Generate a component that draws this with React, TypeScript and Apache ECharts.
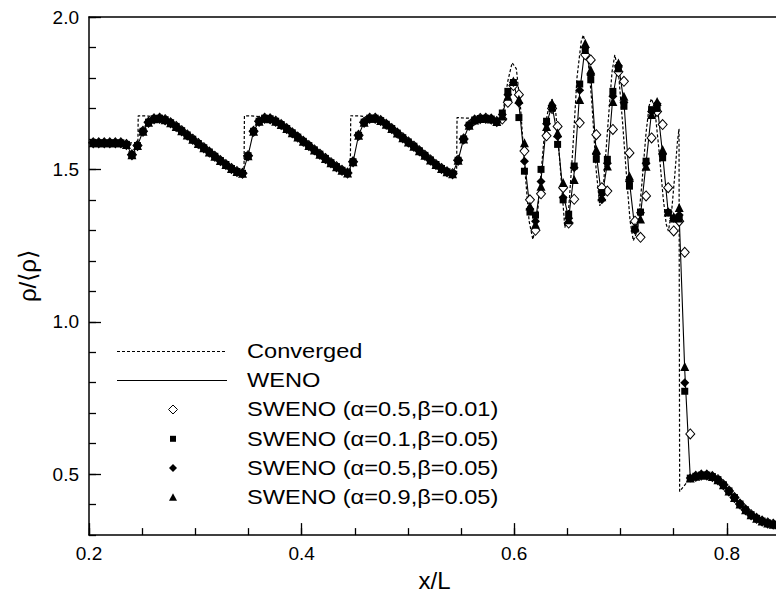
import React, { useEffect, useRef } from "react";
import * as echarts from "echarts";

// grid abscissae (x/L) of the computed solutions
const xGrid = [
  0.2040, 0.2092, 0.2144, 0.2196, 0.2248, 0.2300, 0.2352, 0.2404, 0.2456, 0.2508,
  0.2560, 0.2612, 0.2664, 0.2716, 0.2768, 0.2820, 0.2872, 0.2924, 0.2976, 0.3028,
  0.3080, 0.3132, 0.3184, 0.3236, 0.3288, 0.3340, 0.3392, 0.3444, 0.3496, 0.3548,
  0.3600, 0.3652, 0.3704, 0.3756, 0.3808, 0.3860, 0.3912, 0.3964, 0.4016, 0.4068,
  0.4120, 0.4172, 0.4224, 0.4276, 0.4328, 0.4380, 0.4432, 0.4484, 0.4536, 0.4588,
  0.4640, 0.4692, 0.4744, 0.4796, 0.4848, 0.4900, 0.4952, 0.5004, 0.5056, 0.5108,
  0.5160, 0.5212, 0.5264, 0.5316, 0.5368, 0.5420, 0.5472, 0.5524, 0.5576, 0.5628,
  0.5680, 0.5732, 0.5784, 0.5836, 0.5888, 0.5940, 0.5992, 0.6044, 0.6096, 0.6148,
  0.6200, 0.6252, 0.6304, 0.6356, 0.6408, 0.6460, 0.6512, 0.6564, 0.6616, 0.6668,
  0.6720, 0.6772, 0.6824, 0.6876, 0.6928, 0.6980, 0.7032, 0.7084, 0.7136, 0.7188,
  0.7240, 0.7292, 0.7344, 0.7396, 0.7448, 0.7500, 0.7552, 0.7604, 0.7656, 0.7708,
  0.7760, 0.7812, 0.7864, 0.7916, 0.7968, 0.8020, 0.8072, 0.8124, 0.8176, 0.8228,
  0.8280, 0.8332, 0.8384, 0.8436, 0.8488,
];

// smooth pre-oscillation part, common to all computed solutions (grid points 0..73)
const smoothShared = [
  1.587, 1.587, 1.587, 1.587, 1.587, 1.587, 1.582, 1.548, 1.578, 1.625,
  1.655, 1.666, 1.668, 1.663, 1.653, 1.641, 1.627, 1.613, 1.599, 1.585,
  1.571, 1.557, 1.543, 1.529, 1.516, 1.503, 1.493, 1.487, 1.545, 1.625,
  1.658, 1.668, 1.666, 1.658, 1.647, 1.634, 1.620, 1.606, 1.592, 1.578,
  1.564, 1.550, 1.536, 1.522, 1.509, 1.497, 1.488, 1.525, 1.612, 1.655,
  1.668, 1.668, 1.660, 1.648, 1.634, 1.619, 1.604, 1.590, 1.576, 1.561,
  1.546, 1.531, 1.516, 1.503, 1.492, 1.486, 1.530, 1.600, 1.645, 1.662,
  1.667, 1.668, 1.665, 1.657,
];

// oscillatory region + shock (grid points 74..108)
const wenoOsc = [
  1.680, 1.745, 1.785, 1.715, 1.530, 1.370, 1.330, 1.465, 1.650, 1.710,
  1.605, 1.420, 1.340, 1.490, 1.755, 1.905, 1.810, 1.550, 1.405, 1.520,
  1.740, 1.845, 1.720, 1.460, 1.300, 1.350, 1.520, 1.690, 1.715, 1.550,
  1.360, 1.340, 1.345, 0.840, 0.487,
];
const sw05_001Osc = [
  1.665, 1.720, 1.775, 1.745, 1.560, 1.400, 1.300, 1.420, 1.610, 1.700,
  1.641, 1.440, 1.324, 1.402, 1.653, 1.876, 1.859, 1.614, 1.440, 1.429,
  1.631, 1.820, 1.789, 1.554, 1.330, 1.277, 1.413, 1.603, 1.690, 1.647,
  1.440, 1.298, 1.330, 1.228, 0.632,
];
const sw01_005Osc = [
  1.685, 1.756, 1.785, 1.670, 1.494, 1.360, 1.350, 1.500, 1.658, 1.700,
  1.582, 1.400, 1.353, 1.511, 1.780, 1.890, 1.794, 1.533, 1.424, 1.533,
  1.756, 1.830, 1.707, 1.445, 1.304, 1.360, 1.527, 1.696, 1.700, 1.538,
  1.358, 1.337, 1.337, 0.772, 0.487,
];
const sw05_005Osc = [
  1.680, 1.745, 1.785, 1.718, 1.527, 1.370, 1.330, 1.460, 1.650, 1.710,
  1.608, 1.408, 1.340, 1.505, 1.760, 1.900, 1.810, 1.550, 1.400, 1.520,
  1.740, 1.840, 1.720, 1.460, 1.300, 1.358, 1.520, 1.690, 1.715, 1.550,
  1.360, 1.340, 1.350, 0.800, 0.487,
];
const sw09_005Osc = [
  1.675, 1.740, 1.790, 1.730, 1.587, 1.380, 1.320, 1.445, 1.641, 1.718,
  1.620, 1.457, 1.335, 1.467, 1.729, 1.914, 1.827, 1.565, 1.410, 1.511,
  1.723, 1.849, 1.740, 1.478, 1.310, 1.337, 1.510, 1.680, 1.723, 1.565,
  1.360, 1.345, 1.375, 0.853, 0.487,
];

// post-shock region, common (grid points 109..124)
const tailShared = [
  0.493, 0.497, 0.497, 0.492, 0.482, 0.465, 0.445, 0.423, 0.402, 0.383,
  0.367, 0.355, 0.346, 0.340, 0.336, 0.334,
];

// converged (reference) solution
const convX = [
  0.2000, 0.2460, 0.2463, 0.2560, 0.2660, 0.2760, 0.2860, 0.2960, 0.3060, 0.3160,
  0.3260, 0.3360, 0.3458, 0.3462, 0.3560, 0.3660, 0.3760, 0.3860, 0.3960, 0.4060,
  0.4160, 0.4260, 0.4360, 0.4458, 0.4462, 0.4560, 0.4660, 0.4760, 0.4860, 0.4960,
  0.5060, 0.5160, 0.5260, 0.5360, 0.5458, 0.5462, 0.5560, 0.5660, 0.5760, 0.5820,
  0.5860, 0.5900, 0.5940, 0.5980, 0.6020, 0.6060, 0.6100, 0.6140, 0.6175, 0.6210,
  0.6250, 0.6290, 0.6330, 0.6355, 0.6390, 0.6430, 0.6476, 0.6510, 0.6550, 0.6590,
  0.6630, 0.6650, 0.6690, 0.6730, 0.6770, 0.6805, 0.6840, 0.6880, 0.6920, 0.6946,
  0.6980, 0.7020, 0.7060, 0.7090, 0.7120, 0.7160, 0.7200, 0.7240, 0.7270, 0.7290,
  0.7320, 0.7360, 0.7400, 0.7430, 0.7450, 0.7480, 0.7510, 0.7535, 0.7550, 0.7556,
  0.7656, 0.7708, 0.7760, 0.7812, 0.7864, 0.7916, 0.7968, 0.8020, 0.8072, 0.8124,
  0.8176, 0.8228, 0.8280, 0.8332, 0.8384, 0.8436, 0.8488,
];
const convY = [
  1.587, 1.587, 1.676, 1.675, 1.670, 1.656, 1.632, 1.605, 1.578, 1.551,
  1.523, 1.498, 1.484, 1.676, 1.675, 1.670, 1.656, 1.632, 1.605, 1.578,
  1.551, 1.523, 1.498, 1.484, 1.676, 1.675, 1.670, 1.656, 1.632, 1.605,
  1.578, 1.551, 1.523, 1.498, 1.484, 1.670, 1.668, 1.667, 1.667, 1.662,
  1.656, 1.700, 1.790, 1.850, 1.830, 1.700, 1.500, 1.330, 1.270, 1.320,
  1.480, 1.640, 1.715, 1.730, 1.690, 1.520, 1.309, 1.360, 1.560, 1.800,
  1.920, 1.941, 1.880, 1.720, 1.500, 1.380, 1.450, 1.640, 1.820, 1.876,
  1.820, 1.650, 1.460, 1.330, 1.266, 1.300, 1.450, 1.620, 1.710, 1.732,
  1.705, 1.570, 1.410, 1.320, 1.298, 1.360, 1.480, 1.590, 1.633, 0.443,
  0.487, 0.493, 0.497, 0.497, 0.492, 0.482, 0.465, 0.445, 0.423, 0.402,
  0.383, 0.367, 0.355, 0.346, 0.340, 0.336, 0.334,
];

// labelled (major) tick values
const xMajorTicks = [0.2, 0.4, 0.6, 0.8];
const yMajorTicks = [0.5, 1.0, 1.5, 2.0];

const legendNames = [
  "Converged",
  "WENO",
  "SWENO (α=0.5,β=0.01)",
  "SWENO (α=0.1,β=0.05)",
  "SWENO (α=0.5,β=0.05)",
  "SWENO (α=0.9,β=0.05)",
];

const FONT = '"Liberation Sans", Arial, Helvetica, sans-serif';
const X_MIN = 0.2;
const X_MAX = 0.85;
const Y_MIN = 0.3;
const Y_MAX = 2.0;
const CHART_W = 790;
const CHART_H = 597;
const GRID = { left: 89, top: 17, right: 10, bottom: 60 };
const TICK_STYLE = { color: "#000", width: 1.3 };

function buildSeries(osc: number[]) {
  const vals = [...smoothShared, ...osc, ...tailShared];
  return vals.map((v, k) => [xGrid[k], v]);
}

export default function App() {
  const ref = useRef<HTMLDivElement>(null);
  useEffect(() => {
    if (!ref.current) return;
    const chart = echarts.init(ref.current, null, { renderer: "svg" });

    const lx = 173;
    const rows = [351.5, 380.5, 409.5, 438.8, 468, 497.3];
    const tx = 247;

    const graphic: any[] = [
      { type: "line", shape: { x1: 117, y1: rows[0], x2: 226, y2: rows[0] }, style: { stroke: "#000", lineWidth: 1, lineDash: [3, 2] } },
      { type: "line", shape: { x1: 117, y1: rows[1], x2: 227, y2: rows[1] }, style: { stroke: "#000", lineWidth: 1.2 } },
      { type: "polygon", shape: { points: [[lx, rows[2] - 4.5], [lx + 4.5, rows[2]], [lx, rows[2] + 4.5], [lx - 4.5, rows[2]]] }, style: { fill: "#fff", stroke: "#000", lineWidth: 1 } },
      { type: "rect", shape: { x: lx - 3, y: rows[3] - 3, width: 6, height: 6 }, style: { fill: "#000" } },
      { type: "polygon", shape: { points: [[lx, rows[4] - 4], [lx + 4, rows[4]], [lx, rows[4] + 4], [lx - 4, rows[4]]] }, style: { fill: "#000" } },
      { type: "polygon", shape: { points: [[lx, rows[5] - 4], [lx + 4, rows[5] + 3.5], [lx - 4, rows[5] + 3.5]] }, style: { fill: "#000" } },
    ];
    legendNames.forEach((name, k) => {
      graphic.push({
        type: "text", x: tx, y: rows[k], scaleX: 1.18,
        style: { text: name, fill: "#000", fontSize: 20, fontFamily: FONT, textAlign: "left", textVerticalAlign: "middle" },
      });
    });

    const option: any = {
      animation: false,
      backgroundColor: "#fff",
      grid: { ...GRID, show: false },
      xAxis: [
        {
          type: "value", position: "bottom", min: X_MIN, max: X_MAX, interval: 0.05,
          name: "x/L", nameLocation: "middle", nameGap: 31,
          nameTextStyle: { fontFamily: FONT, fontSize: 24, color: "#000" },
          axisLine: { show: true, onZero: false, lineStyle: { color: "#000", width: 1.5 } },
          axisTick: { show: true, inside: true, length: 7, lineStyle: TICK_STYLE },
          axisLabel: {
            show: true, margin: 9, color: "#000", fontFamily: FONT, fontSize: 19,
            customValues: xMajorTicks, formatter: (v: number) => v.toFixed(1),
          },
          splitLine: { show: false },
        },
        {
          type: "value", position: "bottom", min: X_MIN, max: X_MAX, interval: 0.2,
          axisLine: { show: false, onZero: false },
          axisTick: { show: true, inside: true, length: 12, lineStyle: TICK_STYLE },
          axisLabel: { show: false },
          splitLine: { show: false },
        },
        {
          type: "value", position: "top", min: X_MIN, max: X_MAX,
          axisLine: { show: true, onZero: false, lineStyle: { color: "#000", width: 1.5 } },
          axisTick: { show: false }, axisLabel: { show: false }, splitLine: { show: false },
        },
      ],
      yAxis: [
        {
          type: "value", position: "left", min: Y_MIN, max: Y_MAX, interval: 0.1,
          name: "ρ/⟨ρ⟩", nameLocation: "middle", nameGap: 50,
          nameTextStyle: { fontFamily: FONT, fontSize: 24, color: "#000" },
          axisLine: { show: true, onZero: false, lineStyle: { color: "#000", width: 1.5 } },
          axisTick: { show: true, inside: true, length: 7, lineStyle: TICK_STYLE },
          axisLabel: {
            show: true, margin: 10, color: "#000", fontFamily: FONT, fontSize: 19,
            customValues: yMajorTicks, formatter: (v: number) => v.toFixed(1),
          },
          splitLine: { show: false },
        },
        {
          type: "value", position: "left", min: Y_MIN, max: Y_MAX, interval: 0.1,
          axisLine: { show: false, onZero: false },
          axisTick: { show: true, inside: true, length: 12, lineStyle: TICK_STYLE, customValues: yMajorTicks },
          axisLabel: { show: false },
          splitLine: { show: false },
        },
      ],
      graphic: { elements: graphic },
      series: [
        { name: legendNames[0], type: "line", xAxisIndex: 0, yAxisIndex: 0, data: convX.map((x, k) => [x, convY[k]]), showSymbol: false, symbol: "none", lineStyle: { color: "#000", width: 1.2, type: [3, 2] }, z: 2 },
        { name: legendNames[1], type: "line", xAxisIndex: 0, yAxisIndex: 0, data: buildSeries(wenoOsc), showSymbol: false, symbol: "none", lineStyle: { color: "#000", width: 1.1 }, z: 2 },
        { name: legendNames[2], type: "scatter", xAxisIndex: 0, yAxisIndex: 0, data: buildSeries(sw05_001Osc), symbol: "diamond", symbolSize: [9, 10], itemStyle: { color: "#fff", borderColor: "#000", borderWidth: 1, opacity: 1 }, z: 3 },
        { name: legendNames[3], type: "scatter", xAxisIndex: 0, yAxisIndex: 0, data: buildSeries(sw01_005Osc), symbol: "rect", symbolSize: 7, itemStyle: { color: "#000", opacity: 1 }, z: 4 },
        { name: legendNames[4], type: "scatter", xAxisIndex: 0, yAxisIndex: 0, data: buildSeries(sw05_005Osc), symbol: "diamond", symbolSize: 9, itemStyle: { color: "#000", opacity: 1 }, z: 4 },
        { name: legendNames[5], type: "scatter", xAxisIndex: 0, yAxisIndex: 0, data: buildSeries(sw09_005Osc), symbol: "triangle", symbolSize: 9, itemStyle: { color: "#000", opacity: 1 }, z: 4 },
      ],
    };
    chart.setOption(option);
    return () => chart.dispose();
  }, []);

  return (
    <div style={{ position: "absolute", left: 0, top: 0, width: 776, height: 597, overflow: "hidden", background: "#fff" }}>
      <div ref={ref} style={{ width: CHART_W, height: CHART_H }} />
    </div>
  );
}
